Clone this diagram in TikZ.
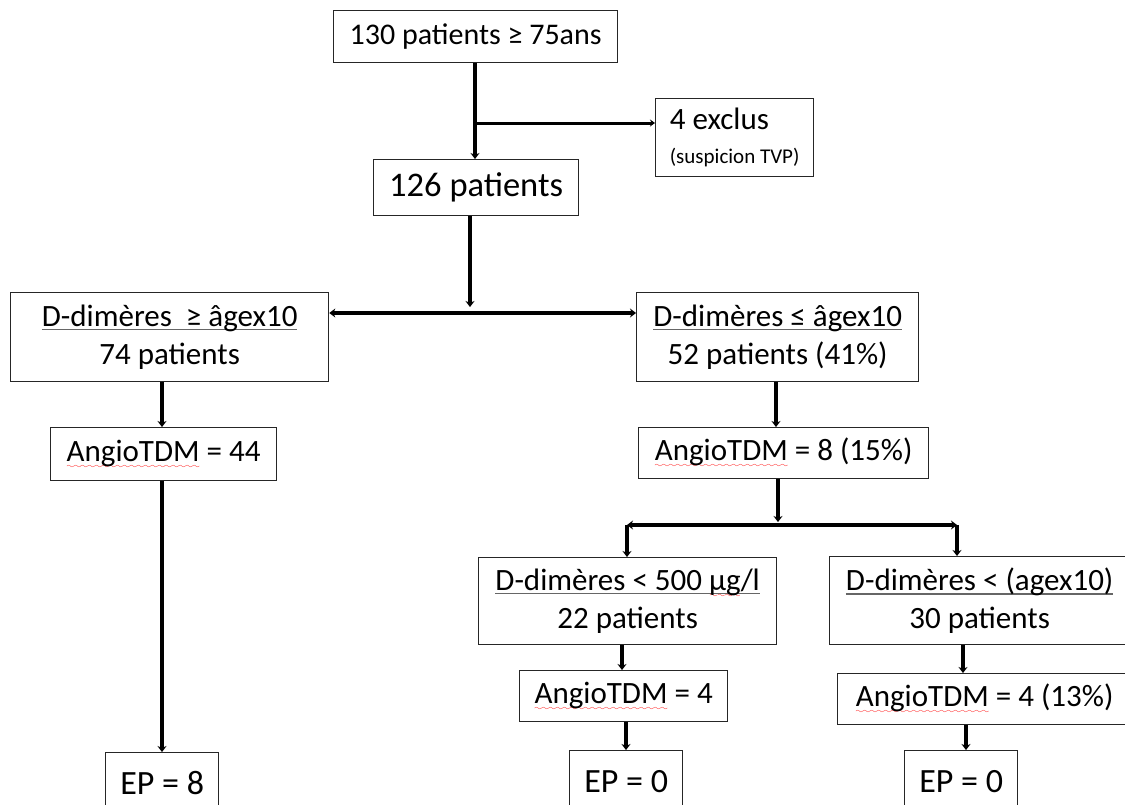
\documentclass[tikz,border=0pt]{standalone}
\usepackage{fontspec}
\setmainfont{Carlito}
\usetikzlibrary{arrows.meta}
\font\wavefont=lasy6 at 8pt
\newsavebox\ulbox
\newsavebox\wvbox
\newcommand\ul[1]{\sbox\ulbox{#1}\rlap{\textcolor{black!60}{\rule[-4pt]{\wd\ulbox}{1.5pt}}}\usebox\ulbox}
\newcommand\wv[1]{\sbox\wvbox{#1}\rlap{\raisebox{-7pt}{\textcolor{red}{\hbox to \wd\wvbox{\wavefont\xleaders\hbox{\char58}\hfil}}}}\usebox\wvbox}
\tikzset{
  box/.style={draw=black!85, line width=1.3pt, inner sep=0pt, anchor=north west,
    align=center, font=\fontsize{31}{38}\selectfont},
  conn/.style={line width=4pt, -{Stealth[length=6pt,width=9pt]}},
  plain/.style={line width=4pt},
  both/.style={line width=4pt, {Stealth[length=6pt,width=9pt]}-{Stealth[length=6pt,width=9pt]}}
}
\begin{document}
\begin{tikzpicture}[x=1pt,y=-1pt]
\useasboundingbox (0,0) rectangle (1125,804);
\fill[white] (0,0) rectangle (1125,804);
\clip (0,0) rectangle (1125,804);

% nodes
\node[box, minimum width=284pt, minimum height=52pt, font=\fontsize{30}{36}\selectfont] (b1) at (333,10) {130 patients ≥ 75ans};
\node[box, minimum width=158pt, minimum height=78pt, align=left] (excl) at (655,98)
  {{\fontsize{31}{34}\selectfont 4 exclus}\\[-4pt]{\fontsize{21}{24}\selectfont (suspicion TVP)}};
\node[box, minimum width=205pt, minimum height=56pt, font=\fontsize{34.5}{40}\selectfont] (b2) at (373,159) {126 patients};

\node[box, minimum width=318pt, minimum height=89pt] (L) at (10,292) {\ul{D-dimères\ \ ≥ âgex10}\\74 patients};
\node[box, minimum width=282pt, minimum height=89pt] (R) at (636,292) {\ul{D-dimères ≤ âgex10}\\52 patients (41\%)};

\node[box, minimum width=226pt, minimum height=53pt] (LA) at (50,427) {\wv{AngioTDM} = 44};
\node[box, minimum width=290pt, minimum height=51pt] (RA) at (638,427) {\wv{AngioTDM} = 8 (15\%)};

\node[box, minimum width=298pt, minimum height=87pt] (RL) at (478,557) {\ul{D-dimères < 500 \wv{µg}/l}\\22 patients};
\node[box, minimum width=300pt, minimum height=88pt] (RR) at (829,556) {\ul{D-dimères < (agex10)}\\30 patients};

\node[box, minimum width=208pt, minimum height=51pt] (RLA) at (519,670) {\wv{AngioTDM} = 4};
\node[box, minimum width=294pt, minimum height=51pt] (RRA) at (837,673) {\wv{AngioTDM} = 4 (13\%)};

\node[box, minimum width=113pt, minimum height=60pt, font=\fontsize{34}{40}\selectfont] (EP8) at (105,752) {EP = 8};
\node[box, minimum width=113pt, minimum height=62pt, font=\fontsize{34}{40}\selectfont] (EP0L) at (569,750) {EP = 0};
\node[box, minimum width=113pt, minimum height=62pt, font=\fontsize{34}{40}\selectfont] (EP0R) at (904,750) {EP = 0};

% helper coordinates
\coordinate (j0) at (475,123);
\coordinate (j1) at (470,313);
\coordinate (j1a) at (470,307);
\coordinate (xL) at (162,0);
\coordinate (xR) at (776,0);
\coordinate (j2) at (778,522);
\coordinate (hl) at (627,525);
\coordinate (hr) at (957,525);
\coordinate (xRL) at (622,0);
\coordinate (xRLb) at (626,0);
\coordinate (xRR) at (963,0);
\coordinate (xRRb) at (966,0);

% connectors
\draw[conn, line width=4.5pt] (b1.south -| j0) -- (b2.north -| j0);
\draw[line width=3pt, -{Stealth[length=5pt,width=7pt]}] (j0) -- (j0 -| excl.west);
\draw[conn, line width=4.5pt] (b2.south -| j1) -- (j1a);
\draw[both] (j1 -| L.east) -- (j1 -| R.west);

\draw[conn] (L.south -| xL) -- (LA.north -| xL);
\draw[conn, line width=3.5pt] (LA.south -| xL) -- (EP8.north -| xL);

\draw[conn] (R.south -| xR) -- (RA.north -| xR);
\draw[conn] (RA.south -| j2) -- (j2);
\draw[both] (hl) -- (hr);
\draw[conn] (hl) -- (RL.north -| hl);
\draw[conn] (hr) -- (RR.north -| hr);

\draw[conn] (RL.south -| xRL) -- (RLA.north -| xRL);
\draw[conn] (RLA.south -| xRLb) -- (EP0L.north -| xRLb);
\draw[conn] (RR.south -| xRR) -- (RRA.north -| xRR);
\draw[conn] (RRA.south -| xRRb) -- (EP0R.north -| xRRb);
\end{tikzpicture}
\end{document}
